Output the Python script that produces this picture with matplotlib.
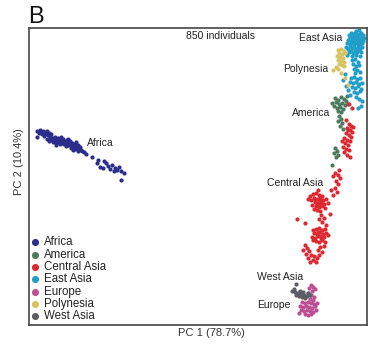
import matplotlib
matplotlib.use("Agg")
import matplotlib.pyplot as plt

plt.rcParams['font.family'] = ['Liberation Sans', 'DejaVu Sans']

# PC scores (arbitrary units, PC1 across, PC2 up)
africa = [(8,194),(11,195),(14,194),(17,193),(20,192),(22,191),(10,192),(13,191),(16,191),(19,190),
          (15,189),(21,189),(8,188),(12,193),(18,194),
          (18,186),(20,184),(21,187),(23,185),(24,183),(25,186),(26,184),(27,182),(28,185),(29,183),
          (30,186),(31,184),(32,182),(33,185),(34,183),(35,181),(36,184),(37,182),(38,185),(39,180),
          (40,183),(41,181),(42,179),(43,182),(44,180),(45,178),(46,181),(47,179),(48,177),(49,180),
          (50,176),(51,178),(52,175),(53,174),(55,173),(46,176),(42,177),(37,179),(31,181),(27,180),
          (24,187),(29,187),(34,186),(41,184),(47,183),(49,174),(44,175),(39,186),(32,188),(26,188),
          (57,171),(63,168),(68,162),(71,158),(69,165),(75,164),(77,162),(79,159),(81,156),(83,160),
          (86,157),(88,155),(90,158),(92,154),(95,152),(92,145),(85,154),(74,157)]

east_asia = [(320,290),(322,292),(324,291),(326,292),(328,290),(330,291),(332,292),(334,290),(321,288),
             (323,287),(325,288),(327,287),(329,288),(331,287),(333,288),(319,285),(322,284),(324,285),
             (326,284),(328,285),(330,284),(332,285),(334,284),(318,282),(321,281),(323,282),(325,281),
             (327,282),(329,281),(331,281),(333,282),(335,287),(327,294),(330,295),
             (317,278),(319,276),(321,279),(323,277),(325,278),(327,276),(329,278),(331,277),(333,278),
             (320,273),(322,274),(324,272),(326,274),(328,273),(330,275),(332,273),(318,270),(323,269),
             (327,270),(331,269),
             (323,265),(326,266),(329,263),(324,261),(327,259),(330,260),(325,256),(328,255),(326,252),
             (331,253),
             (322,247),(325,248),(328,246),(331,247),(321,243),(324,242),(327,243),(330,241),(333,242),
             (323,238),(326,237),(329,239),(332,236),(325,233),(328,232),(331,234),(327,228),(330,226),
             (333,224),(321,230),(319,235),(317,239),(332,219),(329,217),(314,245),(316,251)]

polynesia = [(309,275),(312,276),(315,274),(310,272),(313,271),(316,272),(308,269),(311,268),(314,267),
             (309,265),(312,264),(315,263),(310,261),(313,260),(307,258),(304,255),(309,256),(312,252),
             (316,247),(319,240),(315,259)]

america = [(306,227),(309,225),(312,228),(315,226),(307,223),(310,221),(313,222),(316,220),(305,219),
           (308,217),(311,218),(314,216),(309,214),(312,213),(317,224),(303,222),(310,209),(312,206),
           (309,204),(313,202),(311,199),(314,196),(306,177),(308,174),(305,172),(309,170),(307,168),
           (303,160),(318,229),(320,221)]

central_asia = [(320,201),(322,199),(318,197),(321,195),(323,193),(317,192),(320,190),(322,188),(315,187),
                (318,185),(321,184),(316,182),(319,180),(314,178),(317,176),(320,175),(315,173),(318,170),
                (321,168),(319,195),(324,198),(313,184),(319,221),(323,217),(317,205),
                (306,152),(309,150),(311,147),(304,149),(307,144),(309,141),(306,137),(308,133),(304,130),
                (302,135),(310,155),
                (281,129),(284,131),(287,132),(290,130),(293,129),(285,127),(288,126),(291,127),(294,125),
                (297,126),(282,125),(286,123),(289,122),(292,123),(295,121),(283,120),(287,119),(290,118),
                (293,119),(296,117),(288,115),(291,114),(285,116),(279,126),(299,122),(289,135),(291,124),
                (288,121),(292,120),(286,125),
                (301,111),(292,110),(295,107),(290,106),(293,103),(268,106),(276,102),(297,100),
                (284,95),(287,96),(290,97),(293,95),(296,96),(285,92),(288,91),(291,93),(294,91),(297,92),
                (283,88),(286,87),(289,89),(292,87),(295,88),(287,84),(290,83),(293,85),(296,83),(284,85),
                (299,90),(289,93),(291,89),
                (276,80),(278,77),(280,74),(277,71),(282,70),(279,67),(284,65),(287,63),(289,75),(291,78),
                (293,73),(290,70),(288,67),(295,79),(274,75),(281,63),(285,69)]

west_asia = [(263,34),(266,33),(269,32),(272,31),(275,30),(278,29),(267,30),(270,29),(273,28),(276,27),
             (271,34),(274,33),(267,41),(265,36),(279,32),(281,30)]

europe = [(282,40),(284,38),(280,37),(286,36),(283,34),(279,32),(282,30),(285,28),(281,26),(273,23),
          (276,22),(279,23),(282,22),(285,21),(271,19),(274,18),(277,19),(280,18),(283,17),(286,19),
          (272,15),(275,14),(278,15),(281,14),(284,13),(276,11),(279,10),(282,11),(288,22),(287,15),
          (270,12),(284,25)]

groups = ["Africa", "America", "Central Asia", "East Asia", "Europe", "Polynesia", "West Asia"]
points = [africa, america, central_asia, east_asia, europe, polynesia, west_asia]
colors = ["#2b2d8a", "#4b7a5e", "#dc2830", "#1e9ec8", "#bb4f92", "#d6c25e", "#5c5c66"]

fig = plt.figure(figsize=(3.73, 3.53), dpi=100)
ax = fig.add_axes([29/373, 28/353, 338/373, 297/353])

for name, pts, col in zip(groups, points, colors):
    xs = [p[0] for p in pts]
    ys = [p[1] for p in pts]
    ax.scatter(xs, ys, s=9, color=col, linewidths=0, label=name)

ax.set_xlim(0, 338)
ax.set_ylim(0, 297)
ax.set_xticks([])
ax.set_yticks([])
for sp in ax.spines.values():
    sp.set_color("#444444")
    sp.set_linewidth(1.2)

ax.set_xlabel("PC 1 (78.7%)", fontsize=8, color="#333333", labelpad=2)
ax.xaxis.set_label_coords(0.54, -0.01, transform=ax.transAxes)
ax.xaxis.label.set_va("top")
ax.set_ylabel("PC 2 (10.4%)", fontsize=8, color="#333333")
ax.yaxis.set_label_coords(-0.016, 0.55)

txt = dict(fontsize=7.5, color="#222222", va="center")
ax.text(192, 289, "850 individuals", ha="center", **txt)
ax.text(313, 287, "East Asia", ha="right", **txt)
ax.text(299, 256, "Polynesia", ha="right", **txt)
ax.text(301, 212, "America", ha="right", **txt)
ax.text(58, 182, "Africa", ha="left", **txt)
ax.text(294, 142, "Central Asia", ha="right", **txt)
ax.text(274, 48, "West Asia", ha="right", **txt)
ax.text(262, 20, "Europe", ha="right", **txt)

leg = ax.legend(loc="lower left", bbox_to_anchor=(-0.02, -0.022), frameon=False, fontsize=8.3,
                markerscale=1.7, handlelength=0.6, handletextpad=0.5, labelspacing=0.03,
                borderpad=0.3)
for t in leg.get_texts():
    t.set_color("#222222")

fig.text(28/373, 1 - 17/353, "B", fontsize=17, va="center", ha="left", color="#111111")

fig.savefig("out.png", dpi=100)
